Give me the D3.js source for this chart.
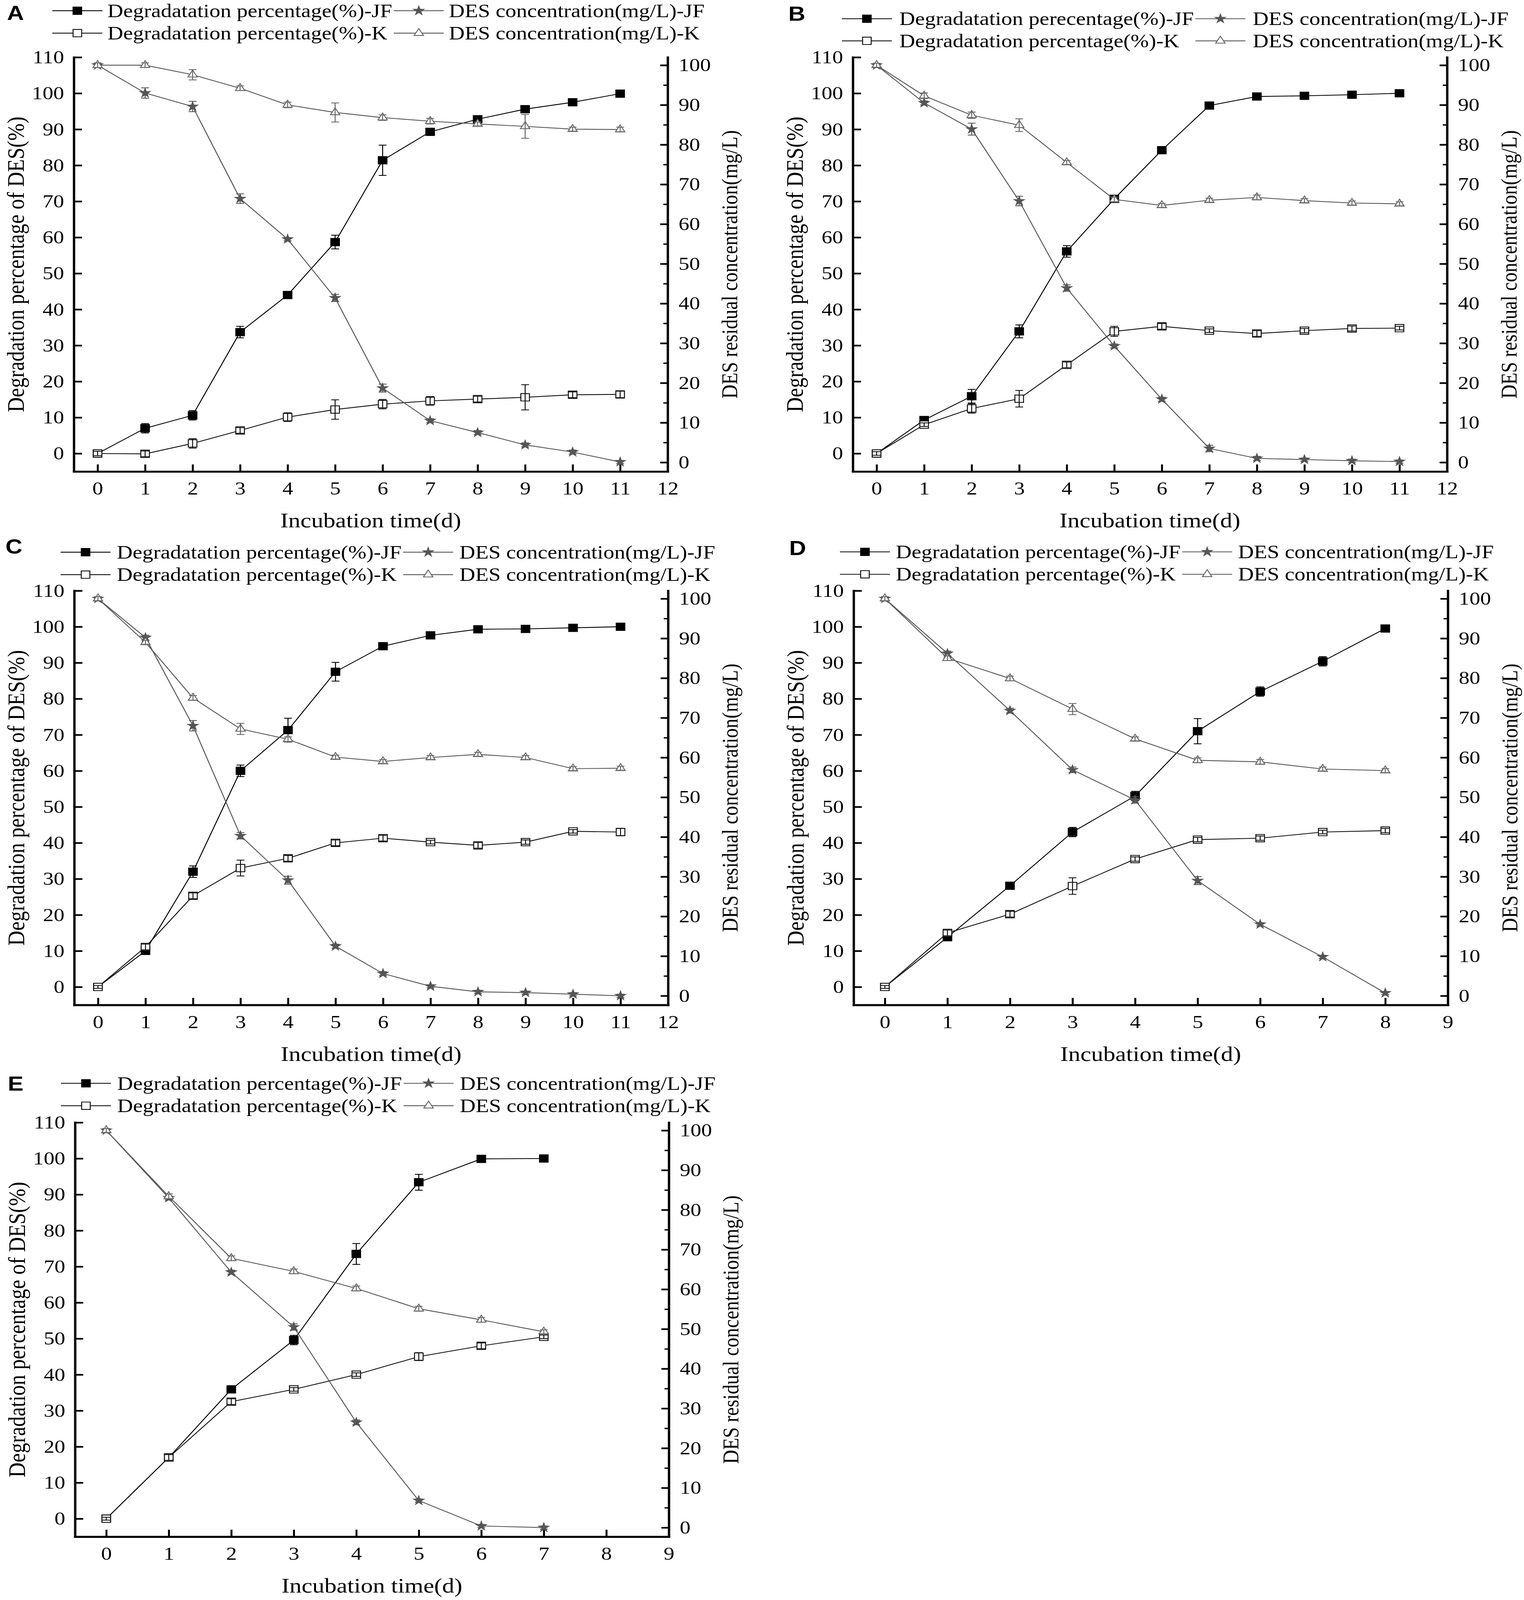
<!DOCTYPE html>
<html><head><meta charset="utf-8">
<script src="https://cdn.jsdelivr.net/npm/d3@7"></script>
<style>html,body{margin:0;padding:0;background:#fff;overflow:hidden}svg{display:block}</style>
</head><body>
<svg id="c" xmlns="http://www.w3.org/2000/svg"></svg>
<script>
// ---------------- DATA ----------------
const days12 = [0,1,2,3,4,5,6,7,8,9,10,11];
const days9  = [0,1,2,3,4,5,6,7,8];
const days8  = [0,1,2,3,4,5,6,7];

const labelJF   = "Degradatation percentage(%)-JF";
const labelJF_B = "Degradatation perecentage(%)-JF";
const labelK    = "Degradatation percentage(%)-K";
const labelDJF  = "DES concentration(mg/L)-JF";
const labelDK   = "DES concentration(mg/L)-K";

const xTitle = "Incubation time(d)";
const yLeftTitle = "Degradation percentage of DES(%)";
const yRightTitle = "DES residual concentration(mg/L)";

const leftTicks  = [0,10,20,30,40,50,60,70,80,90,100,110];
const rightTicks = [0,10,20,30,40,50,60,70,80,90,100];
const rightMinor = [5,15,25,35,45,55,65,75,85,95];

// Panel A
const A_JF      = [0, 7.0, 10.6, 33.7, 44.0, 58.7, 81.4, 89.3, 92.8, 95.6, 97.5, 99.9];
const A_JF_err  = [0.3, 1.3, 1.3, 1.6, 0.5, 1.9, 4.2, 0.9, 0.6, 0.6, 0.5, 0.5];
const A_K       = [0, -0.1, 2.8, 6.4, 10.1, 12.2, 13.7, 14.6, 15.1, 15.6, 16.3, 16.4];
const A_K_err   = [0.6, 0.8, 1.3, 0.8, 1.2, 2.7, 1.3, 1.2, 0.8, 3.5, 0.8, 0.9];
const A_DJF     = [100, 93.0, 89.6, 66.4, 56.2, 41.4, 18.7, 10.5, 7.5, 4.4, 2.6, 0.1];
const A_DJF_err = [0.4, 1.3, 1.3, 1.2, 0.4, 0.9, 1.0, 0.5, 0.5, 0.5, 0.5, 0.4];
const A_DK      = [100, 100, 97.6, 94.2, 90.0, 88.1, 86.8, 85.9, 85.2, 84.6, 83.9, 83.8];
const A_DK_err  = [0.6, 0.6, 1.3, 0.6, 0.7, 2.4, 0.7, 0.7, 0.5, 3.0, 0.5, 0.6];

// Panel B
const B_JF      = [0, 9.3, 15.9, 33.9, 56.1, 70.7, 84.2, 96.6, 99.1, 99.3, 99.6, 100];
const B_JF_err  = [0.3, 0.6, 1.9, 1.8, 1.6, 0.8, 0.6, 0.6, 0.5, 0.5, 0.5, 0.4];
const B_K       = [0, 8.0, 12.5, 15.2, 24.6, 33.9, 35.3, 34.1, 33.3, 34.1, 34.7, 34.8];
const B_K_err   = [0.5, 0.5, 1.3, 2.3, 0.8, 1.4, 0.8, 0.5, 0.8, 0.6, 0.7, 0.5];
const B_DJF     = [100, 90.5, 83.9, 65.8, 43.9, 29.3, 15.9, 3.5, 1.0, 0.7, 0.4, 0.2];
const B_DJF_err = [0.4, 0.5, 1.5, 1.2, 0.8, 0.5, 0.5, 0.8, 0.5, 0.4, 0.4, 0.4];
const B_DK      = [100, 92.3, 87.4, 84.9, 75.5, 66.2, 64.7, 66.0, 66.7, 65.9, 65.3, 65.1];
const B_DK_err  = [0.5, 0.7, 0.8, 1.6, 0.5, 0.6, 0.5, 0.5, 0.6, 0.5, 0.5, 0.5];

// Panel C
const C_JF      = [0, 10.0, 32.0, 60.0, 71.3, 87.5, 94.6, 97.6, 99.3, 99.4, 99.7, 100];
const C_JF_err  = [0.3, 0.5, 1.6, 1.6, 3.3, 2.6, 0.8, 0.6, 0.5, 0.4, 0.4, 0.4];
const C_K       = [0, 11.1, 25.3, 33.0, 35.7, 40.0, 41.3, 40.2, 39.3, 40.2, 43.2, 43.0];
const C_K_err   = [0.4, 0.8, 0.8, 2.2, 0.8, 0.8, 0.8, 0.5, 0.8, 0.6, 0.5, 1.0];
const C_DJF     = [100, 90.2, 68.0, 40.3, 29.1, 12.5, 5.6, 2.4, 1.0, 0.8, 0.4, 0.0];
const C_DJF_err = [0.4, 0.6, 1.3, 0.8, 1.0, 0.5, 0.5, 0.4, 0.4, 0.4, 0.4, 0.4];
const C_DK      = [100, 89.0, 75.0, 67.2, 64.6, 60.1, 59.0, 60.0, 60.8, 60.0, 57.2, 57.3];
const C_DK_err  = [0.5, 0.5, 0.6, 1.4, 0.6, 0.5, 0.5, 0.5, 0.5, 0.5, 0.5, 0.5];

// Panel D
const D_JF      = [0, 13.8, 28.1, 43.0, 53.0, 71.0, 82.0, 90.4, 99.5];
const D_JF_err  = [0.3, 0.5, 0.6, 1.3, 1.3, 3.5, 1.3, 1.3, 0.5];
const D_K       = [0, 15.0, 20.2, 28.0, 35.5, 40.9, 41.3, 43.0, 43.4];
const D_K_err   = [0.4, 0.8, 0.8, 2.3, 0.6, 0.6, 0.6, 0.5, 0.6];
const D_DJF     = [100, 86.2, 71.8, 56.9, 49.3, 29.0, 18.0, 9.8, 0.7];
const D_DJF_err = [0.4, 0.6, 0.6, 0.7, 0.8, 1.0, 0.4, 0.4, 0.4];
const D_DK      = [100, 85.0, 79.9, 72.2, 64.7, 59.3, 58.9, 57.1, 56.7];
const D_DK_err  = [0.5, 0.6, 0.6, 1.4, 0.5, 0.6, 0.6, 0.5, 0.5];

// Panel E
const E_JF      = [0, 17.0, 35.9, 49.6, 73.5, 93.4, 99.9, 100.0];
const E_JF_err  = [0.3, 0.6, 0.6, 1.3, 2.9, 2.2, 0.5, 0.4];
const E_K       = [0, 17.0, 32.5, 35.9, 40.0, 45.0, 48.0, 50.5];
const E_K_err   = [0.4, 0.8, 0.8, 0.5, 0.5, 1.1, 0.8, 0.5];
const E_DJF     = [100, 83.0, 64.3, 50.5, 26.5, 6.8, 0.4, 0.0];
const E_DJF_err = [0.4, 0.5, 0.5, 0.8, 0.6, 0.4, 0.4, 0.4];
const E_DK      = [100, 83.4, 67.8, 64.5, 60.2, 55.1, 52.3, 49.3];
const E_DK_err  = [0.5, 0.6, 0.6, 0.6, 0.6, 0.6, 0.6, 0.5];

// ---------------- LAYOUT ----------------
const W = 3901, H = 4778;
const panels = [
  {id:"A", days:days12, xMax:12, s:[A_JF,A_JF_err,A_K,A_K_err,A_DJF,A_DJF_err,A_DK,A_DK_err], lj:labelJF,
   left:189, right:1709, top:171, bottom:1408, letter:[18,60], rows:[51,118], legLine:134, legText:275},
  {id:"B", days:days12, xMax:12, s:[B_JF,B_JF_err,B_K,B_K_err,B_DJF,B_DJF_err,B_DK,B_DK_err], lj:labelJF_B,
   left:2183, right:3704, top:171, bottom:1408, letter:[2018,62], rows:[75,141], legLine:2155, legText:2302},
  {id:"C", days:days12, xMax:12, s:[C_JF,C_JF_err,C_K,C_K_err,C_DJF,C_DJF_err,C_DK,C_DK_err], lj:labelJF,
   left:190, right:1710, top:1764, bottom:3001, letter:[14,1653], rows:[1668,1735], legLine:155, legText:299},
  {id:"D", days:days9, xMax:9, s:[D_JF,D_JF_err,D_K,D_K_err,D_DJF,D_DJF_err,D_DK,D_DK_err], lj:labelJF,
   left:2185, right:3706, top:1764, bottom:3001, letter:[2020,1658], rows:[1667,1734], legLine:2150, legText:2293},
  {id:"E", days:days8, xMax:9, s:[E_JF,E_JF_err,E_K,E_K_err,E_DJF,E_DJF_err,E_DK,E_DK_err], lj:labelJF,
   left:192, right:1712, top:3352, bottom:4589, letter:[20,3257], rows:[3254,3321], legLine:156, legText:300}
];

const FONT = "'Liberation Serif','Times New Roman',Times,serif";
const GRAY = "#555555";
const vw = window.innerWidth || W, vh = window.innerHeight || H;
const svg = d3.select("#c").attr("width", vw).attr("height", vh)
  .attr("viewBox", `0 0 ${W} ${H}`).attr("preserveAspectRatio","none");
svg.append("rect").attr("width",W).attr("height",H).attr("fill","#fff");

const symSquare = d3.symbol().type(d3.symbolSquare).size(484);
const symStar = d3.symbol().type(d3.symbolStar).size(200);
const symTri = d3.symbol().type(d3.symbolTriangle).size(250);

const styles = [
  {sym:symSquare, fill:"#000", stroke:"#000", line:"#000"},
  {sym:symSquare, fill:"#fff", stroke:"#111", line:"#111"},
  {sym:symStar,   fill:GRAY,  stroke:GRAY,  line:GRAY},
  {sym:symTri,    fill:"#fff", stroke:"#666", line:GRAY}
];

function styleAxis(sel, fs){
  sel.selectAll(".domain").attr("stroke","#000").attr("stroke-width",6).attr("stroke-linecap","square");
  sel.selectAll(".tick line").attr("stroke","#000").attr("stroke-width",5);
  sel.selectAll(".tick text").attr("font-family",FONT).attr("font-size",fs).attr("fill","#000");
}

panels.forEach(p => {
  const g = svg.append("g");
  const x = d3.scaleLinear().domain([-0.5, p.xMax]).range([p.left, p.right]);
  const yL = d3.scaleLinear().domain([-5, 110]).range([p.bottom, p.top]);
  const yR = d3.scaleLinear().domain([-2.3, 102]).range([p.bottom, p.top]);

  // axes
  const gb = g.append("g").attr("transform",`translate(0,${p.bottom})`)
    .call(d3.axisBottom(x).tickValues(d3.range(0, p.xMax+1)).tickSize(-21).tickSizeOuter(0).tickPadding(30));
  styleAxis(gb, 55);
  const gl = g.append("g").attr("transform",`translate(${p.left},0)`)
    .call(d3.axisLeft(yL).tickValues(leftTicks).tickSize(-21).tickSizeOuter(0).tickPadding(25));
  styleAxis(gl, 55);
  const gr = g.append("g").attr("transform",`translate(${p.right},0)`)
    .call(d3.axisRight(yR).tickValues(rightTicks).tickSize(-19).tickSizeOuter(0).tickPadding(28));
  styleAxis(gr, 55);
  const grm = g.append("g").attr("transform",`translate(${p.right},0)`)
    .call(d3.axisRight(yR).tickValues(rightMinor).tickSize(-11).tickFormat(""));
  grm.select(".domain").remove();
  grm.selectAll(".tick line").attr("stroke","#000").attr("stroke-width",4);

  // titles
  g.append("text").attr("x",(p.left+p.right)/2).attr("y",p.bottom+167)
    .attr("text-anchor","middle").attr("font-family",FONT).attr("font-size",62).text(xTitle);
  g.append("text").attr("transform",`translate(${p.left-150},${(p.top+p.bottom)/2}) rotate(-90)`)
    .attr("text-anchor","middle").attr("dy","0.35em").attr("font-family",FONT).attr("font-size",62).text(yLeftTitle);
  g.append("text").attr("transform",`translate(${p.right+158},${(p.top+p.bottom)/2}) rotate(-90)`)
    .attr("text-anchor","middle").attr("dy","0.35em").attr("font-family",FONT).attr("font-size",58).text(yRightTitle);

  // panel letter
  g.append("text").attr("x",p.letter[0]).attr("y",p.letter[1])
    .attr("font-family","'Liberation Sans',Arial,sans-serif").attr("font-weight","bold").attr("font-size",60).text(p.id);

  // series
  const series = [
    {v:p.s[0], e:p.s[1], y:yL, st:styles[0]},
    {v:p.s[2], e:p.s[3], y:yL, st:styles[1]},
    {v:p.s[4], e:p.s[5], y:yR, st:styles[2]},
    {v:p.s[6], e:p.s[7], y:yR, st:styles[3]}
  ];
  series.forEach(s => {
    const pts = s.v.map((v,i)=>({d:p.days[i], v:v, e:s.e[i]}));
    const sg = g.append("g");
    sg.append("path").datum(pts)
      .attr("d", d3.line().x(d=>x(d.d)).y(d=>s.y(d.v)))
      .attr("fill","none").attr("stroke",s.st.line).attr("stroke-width",2.5);
    sg.selectAll("path.m").data(pts).join("path").attr("class","m")
      .attr("d", s.st.sym()).attr("transform",d=>`translate(${x(d.d)},${s.y(d.v)})`)
      .attr("fill",s.st.fill).attr("stroke",s.st.stroke).attr("stroke-width",2.5);
    const eb = sg.selectAll("g.eb").data(pts).join("g").attr("class","eb")
      .attr("stroke",s.st.stroke).attr("stroke-width",2.5);
    eb.append("line").attr("x1",d=>x(d.d)).attr("x2",d=>x(d.d))
      .attr("y1",d=>s.y(d.v-d.e)).attr("y2",d=>s.y(d.v+d.e));
    eb.append("line").attr("x1",d=>x(d.d)-10).attr("x2",d=>x(d.d)+10)
      .attr("y1",d=>s.y(d.v+d.e)).attr("y2",d=>s.y(d.v+d.e));
    eb.append("line").attr("x1",d=>x(d.d)-10).attr("x2",d=>x(d.d)+10)
      .attr("y1",d=>s.y(d.v-d.e)).attr("y2",d=>s.y(d.v-d.e));
  });

  // legend
  const lg = g.append("g");
  const labels = [[p.lj, labelDJF],[labelK, labelDK]];
  const styleIdx = [[0,2],[1,3]];
  const lineLen = 128;
  const textOff = p.legText - p.legLine;
  const t1 = lg.append("text").attr("x",p.legText).attr("y",p.rows[0]).attr("font-family",FONT).attr("font-size",56).text(labels[0][0]);
  const t2 = lg.append("text").attr("x",p.legText).attr("y",p.rows[1]).attr("font-family",FONT).attr("font-size",56).text(labels[1][0]);
  const w = Math.max(t1.node().getComputedTextLength(), t2.node().getComputedTextLength());
  const col2Line = p.legText + w + 4;
  [0,1].forEach(r => {
    [0,1].forEach(c => {
      const st = styles[styleIdx[r][c]];
      const lx = c===0 ? p.legLine : col2Line;
      const cy = p.rows[r] - 19;
      lg.append("line").attr("x1",lx).attr("x2",lx+lineLen).attr("y1",cy).attr("y2",cy)
        .attr("stroke",st.line).attr("stroke-width",2.5);
      lg.append("path").attr("d",st.sym()).attr("transform",`translate(${lx+lineLen/2},${cy})`)
        .attr("fill",st.fill).attr("stroke",st.stroke).attr("stroke-width",2.5);
      if (c===1) {
        lg.append("text").attr("x",lx+textOff).attr("y",p.rows[r]).attr("font-family",FONT).attr("font-size",56).text(labels[r][c]);
      }
    });
  });
});
</script>
</body></html>
